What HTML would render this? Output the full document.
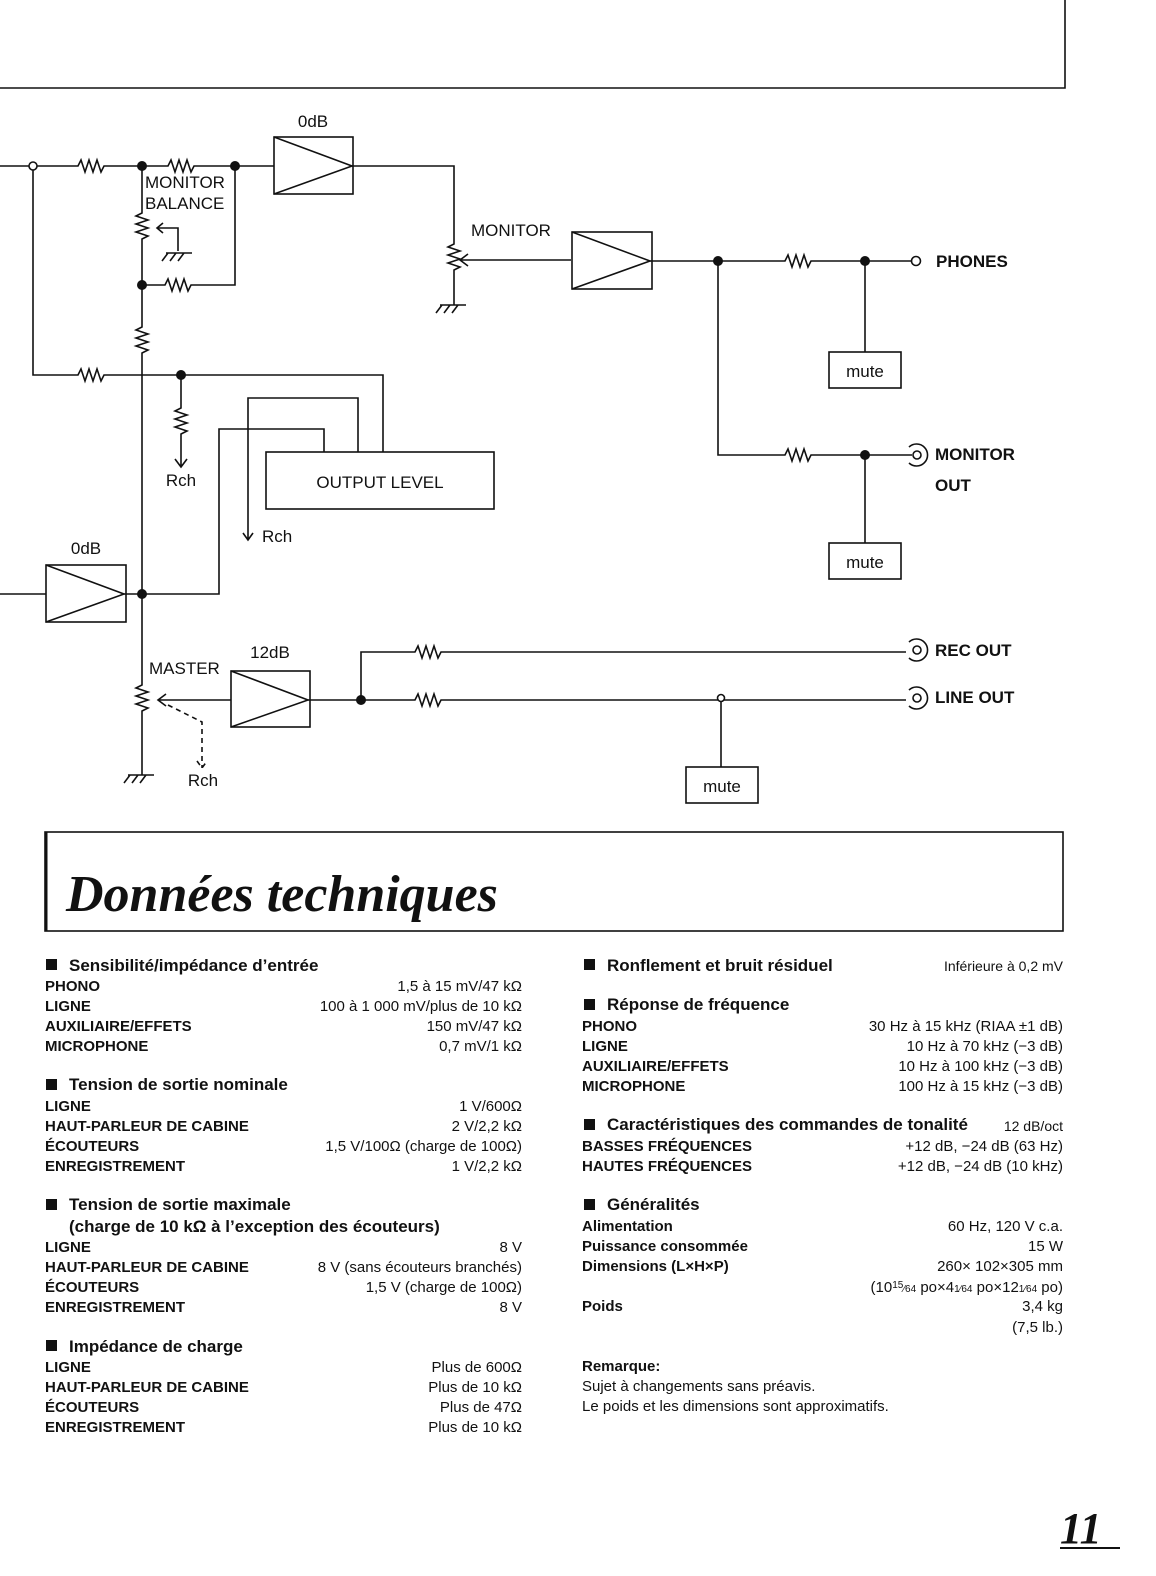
<!DOCTYPE html>
<html><head><meta charset="utf-8"><style>
html,body{margin:0;padding:0;background:#fff;}
svg{display:block;}
text{font-family:"Liberation Sans",sans-serif;fill:#111;}
.d{font-size:17px;}
.b{font-weight:bold;}
.s{font-size:15px;}
.h{font-size:17px;font-weight:bold;}
.r{text-anchor:end;}
.c{text-anchor:middle;}
</style></head><body>
<svg width="1156" height="1576" viewBox="0 0 1156 1576" xmlns="http://www.w3.org/2000/svg">
<g fill="none" stroke="#111" stroke-width="1.6">
<path d="M0 88H1065V0"/>
<path d="M0 166H29M37 166H78l3 -6l4 12l4 -12l4 12l4 -12l4 12l3 -6H168l3 -6l4 12l4 -12l4 12l4 -12l4 12l3 -6H274"/>
<rect x="274" y="137" width="79" height="57"/><path d="M274 137L352 166L274 194"/>
<path d="M352 166H454V244l-6 3l12 4l-12 4l12 4l-12 4l12 4l-6 3V305"/>
<path d="M440 305h26M442 305l-6 8M450 305l-6 8M458 305l-6 8"/>
<path d="M571 260H460M468 254L460 260L468 266"/>
<rect x="572" y="232" width="80" height="57"/><path d="M572 232L650 261L572 289"/>
<path d="M650 261H785l3 -6l4 12l4 -12l4 12l4 -12l4 12l3 -6H912"/>
<rect x="829" y="352" width="72" height="36"/><path d="M865 261V352"/>
<path d="M718 261V455H785l3 -6l4 12l4 -12l4 12l4 -12l4 12l3 -6H912"/>
<rect x="829" y="543" width="72" height="36"/><path d="M865 455V543"/>
<path d="M33 170V375H78l3 -6l4 12l4 -12l4 12l4 -12l4 12l3 -6H383V452"/>
<path d="M181 375V408l-6 3l12 4l-12 4l12 4l-12 4l12 4l-6 3V466M175 459L181 467L187 459"/>
<path d="M142 166V213l-6 3l12 4l-12 4l12 4l-12 4l12 4l-6 3V327l-6 3l12 4l-12 4l12 4l-12 4l12 4l-6 3V685l-6 3l12 4l-12 4l12 4l-12 4l12 4l-6 3V775"/>
<path d="M128 775h26M130 775l-6 8M138 775l-6 8M146 775l-6 8"/>
<path d="M178 251V228H157M163 223L157 228L163 233"/>
<path d="M166 253h26M168 253l-6 8M176 253l-6 8M184 253l-6 8"/>
<path d="M142 285H165l3 -6l4 12l4 -12l4 12l4 -12l4 12l3 -6H235V166"/>
<path d="M248 540V398H358V452M243 533L248 540L253 533"/>
<path d="M142 594H219V429H324V452"/>
<rect x="266" y="452" width="228" height="57"/>
<path d="M0 594H46"/>
<rect x="46" y="565" width="80" height="57"/><path d="M46 565L124 594L46 622"/>
<path d="M124 594H142"/>
<path d="M231 700H158M166 694L158 700L166 706"/>
<path d="M168 705L202 722V768M197 761L202 768L207 761" stroke-dasharray="5 4"/>
<rect x="231" y="671" width="79" height="56"/><path d="M231 671L308 700L231 727"/>
<path d="M308 700H415l3 -6l4 12l4 -12l4 12l4 -12l4 12l3 -6H906"/>
<path d="M361 700V652H415l3 -6l4 12l4 -12l4 12l4 -12l4 12l3 -6H906"/>
<rect x="686" y="767" width="72" height="36"/><path d="M721 702V767"/>
<circle cx="33" cy="166" r="4" fill="#fff"/>
<circle cx="916" cy="261" r="4.5" fill="#fff"/>
<circle cx="721" cy="698" r="3.5" fill="#fff"/>
<circle cx="917" cy="455" r="4"/><path d="M909 447A11 11 0 1 1 909 463"/>
<circle cx="917" cy="650" r="4"/><path d="M909 642A11 11 0 1 1 909 658"/>
<circle cx="917" cy="698" r="4"/><path d="M909 690A11 11 0 1 1 909 706"/>
<rect x="45" y="832" width="1018" height="99"/>
<path d="M46 832V931" stroke-width="3"/>
</g>
<g fill="#111">
<circle cx="142" cy="166" r="5"/><circle cx="235" cy="166" r="5"/><circle cx="142" cy="285" r="5"/>
<circle cx="181" cy="375" r="5"/><circle cx="142" cy="594" r="5"/><circle cx="361" cy="700" r="5"/>
<circle cx="718" cy="261" r="5"/><circle cx="865" cy="261" r="5"/><circle cx="865" cy="455" r="5"/>
</g>
<g class="d">
<text x="313" y="127" class="c">0dB</text>
<text x="145" y="188">MONITOR</text><text x="145" y="209">BALANCE</text>
<text x="471" y="236">MONITOR</text>
<text x="936" y="267" class="b">PHONES</text>
<text x="865" y="377" class="c">mute</text>
<text x="181" y="486" class="c">Rch</text>
<text x="380" y="488" class="c">OUTPUT LEVEL</text>
<text x="935" y="460" class="b">MONITOR</text><text x="935" y="491" class="b">OUT</text>
<text x="262" y="542">Rch</text>
<text x="86" y="554" class="c">0dB</text>
<text x="865" y="568" class="c">mute</text>
<text x="270" y="658" class="c">12dB</text>
<text x="149" y="674">MASTER</text>
<text x="935" y="656" class="b">REC OUT</text>
<text x="935" y="703" class="b">LINE OUT</text>
<text x="722" y="792" class="c">mute</text>
<text x="203" y="786" class="c">Rch</text>
</g>
<text x="66" y="911" style="font-family:'Liberation Serif',serif;font-size:52px;font-weight:bold;font-style:italic">Données techniques</text>
<g fill="#111">
<rect x="46" y="959" width="11" height="11"/><rect x="46" y="1079" width="11" height="11"/><rect x="46" y="1199" width="11" height="11"/><rect x="46" y="1340" width="11" height="11"/>
<rect x="584" y="959" width="11" height="11"/><rect x="584" y="999" width="11" height="11"/><rect x="584" y="1119" width="11" height="11"/><rect x="584" y="1199" width="11" height="11"/>
</g>
<g class="s">
<text x="69" y="971" class="h">Sensibilité/impédance d’entrée</text>
<text x="45" y="991" class="b">PHONO</text><text x="522" y="991" class="r">1,5 à 15 mV/47 kΩ</text>
<text x="45" y="1011" class="b">LIGNE</text><text x="522" y="1011" class="r">100 à 1 000 mV/plus de 10 kΩ</text>
<text x="45" y="1031" class="b">AUXILIAIRE/EFFETS</text><text x="522" y="1031" class="r">150 mV/47 kΩ</text>
<text x="45" y="1051" class="b">MICROPHONE</text><text x="522" y="1051" class="r">0,7 mV/1 kΩ</text>
<text x="69" y="1090" class="h">Tension de sortie nominale</text>
<text x="45" y="1111" class="b">LIGNE</text><text x="522" y="1111" class="r">1 V/600Ω</text>
<text x="45" y="1131" class="b">HAUT-PARLEUR DE CABINE</text><text x="522" y="1131" class="r">2 V/2,2 kΩ</text>
<text x="45" y="1151" class="b">ÉCOUTEURS</text><text x="522" y="1151" class="r">1,5 V/100Ω (charge de 100Ω)</text>
<text x="45" y="1171" class="b">ENREGISTREMENT</text><text x="522" y="1171" class="r">1 V/2,2 kΩ</text>
<text x="69" y="1210" class="h">Tension de sortie maximale</text>
<text x="69" y="1232" class="h">(charge de 10 kΩ à l’exception des écouteurs)</text>
<text x="45" y="1252" class="b">LIGNE</text><text x="522" y="1252" class="r">8 V</text>
<text x="45" y="1272" class="b">HAUT-PARLEUR DE CABINE</text><text x="522" y="1272" class="r">8 V (sans écouteurs branchés)</text>
<text x="45" y="1292" class="b">ÉCOUTEURS</text><text x="522" y="1292" class="r">1,5 V (charge de 100Ω)</text>
<text x="45" y="1312" class="b">ENREGISTREMENT</text><text x="522" y="1312" class="r">8 V</text>
<text x="69" y="1352" class="h">Impédance de charge</text>
<text x="45" y="1372" class="b">LIGNE</text><text x="522" y="1372" class="r">Plus de 600Ω</text>
<text x="45" y="1392" class="b">HAUT-PARLEUR DE CABINE</text><text x="522" y="1392" class="r">Plus de 10 kΩ</text>
<text x="45" y="1412" class="b">ÉCOUTEURS</text><text x="522" y="1412" class="r">Plus de 47Ω</text>
<text x="45" y="1432" class="b">ENREGISTREMENT</text><text x="522" y="1432" class="r">Plus de 10 kΩ</text>

<text x="607" y="971" class="h">Ronflement et bruit résiduel</text><text x="1063" y="971" class="r" style="font-size:14px">Inférieure à 0,2 mV</text>
<text x="607" y="1010" class="h">Réponse de fréquence</text>
<text x="582" y="1031" class="b">PHONO</text><text x="1063" y="1031" class="r">30 Hz à 15 kHz (RIAA ±1 dB)</text>
<text x="582" y="1051" class="b">LIGNE</text><text x="1063" y="1051" class="r">10 Hz à 70 kHz (−3 dB)</text>
<text x="582" y="1071" class="b">AUXILIAIRE/EFFETS</text><text x="1063" y="1071" class="r">10 Hz à 100 kHz (−3 dB)</text>
<text x="582" y="1091" class="b">MICROPHONE</text><text x="1063" y="1091" class="r">100 Hz à 15 kHz (−3 dB)</text>
<text x="607" y="1130" class="h">Caractéristiques des commandes de tonalité</text><text x="1063" y="1131" class="r" style="font-size:14px">12 dB/oct</text>
<text x="582" y="1151" class="b">BASSES FRÉQUENCES</text><text x="1063" y="1151" class="r">+12 dB, −24 dB (63 Hz)</text>
<text x="582" y="1171" class="b">HAUTES FRÉQUENCES</text><text x="1063" y="1171" class="r">+12 dB, −24 dB (10 kHz)</text>
<text x="607" y="1210" class="h">Généralités</text>
<text x="582" y="1231" class="b">Alimentation</text><text x="1063" y="1231" class="r">60 Hz, 120 V c.a.</text>
<text x="582" y="1251" class="b">Puissance consommée</text><text x="1063" y="1251" class="r">15 W</text>
<text x="582" y="1271" class="b">Dimensions (L×H×P)</text><text x="1063" y="1271" class="r">260× 102×305 mm</text>
<text x="1063" y="1292" class="r">(10<tspan font-size="10" dy="-4">15</tspan><tspan font-size="10" dy="4">⁄64</tspan> po×4<tspan font-size="10">1⁄64</tspan> po×12<tspan font-size="10">1⁄64</tspan> po)</text>
<text x="582" y="1311" class="b">Poids</text><text x="1063" y="1311" class="r">3,4 kg</text>
<text x="1063" y="1332" class="r">(7,5 lb.)</text>
<text x="582" y="1371" class="b">Remarque:</text>
<text x="582" y="1391">Sujet à changements sans préavis.</text>
<text x="582" y="1411">Le poids et les dimensions sont approximatifs.</text>
</g>
<text x="1060" y="1543" style="font-family:'Liberation Serif',serif;font-size:44px;font-weight:bold;font-style:italic">11</text>
<path d="M1060 1548H1120" stroke="#111" stroke-width="2"/>
</svg>
</body></html>
